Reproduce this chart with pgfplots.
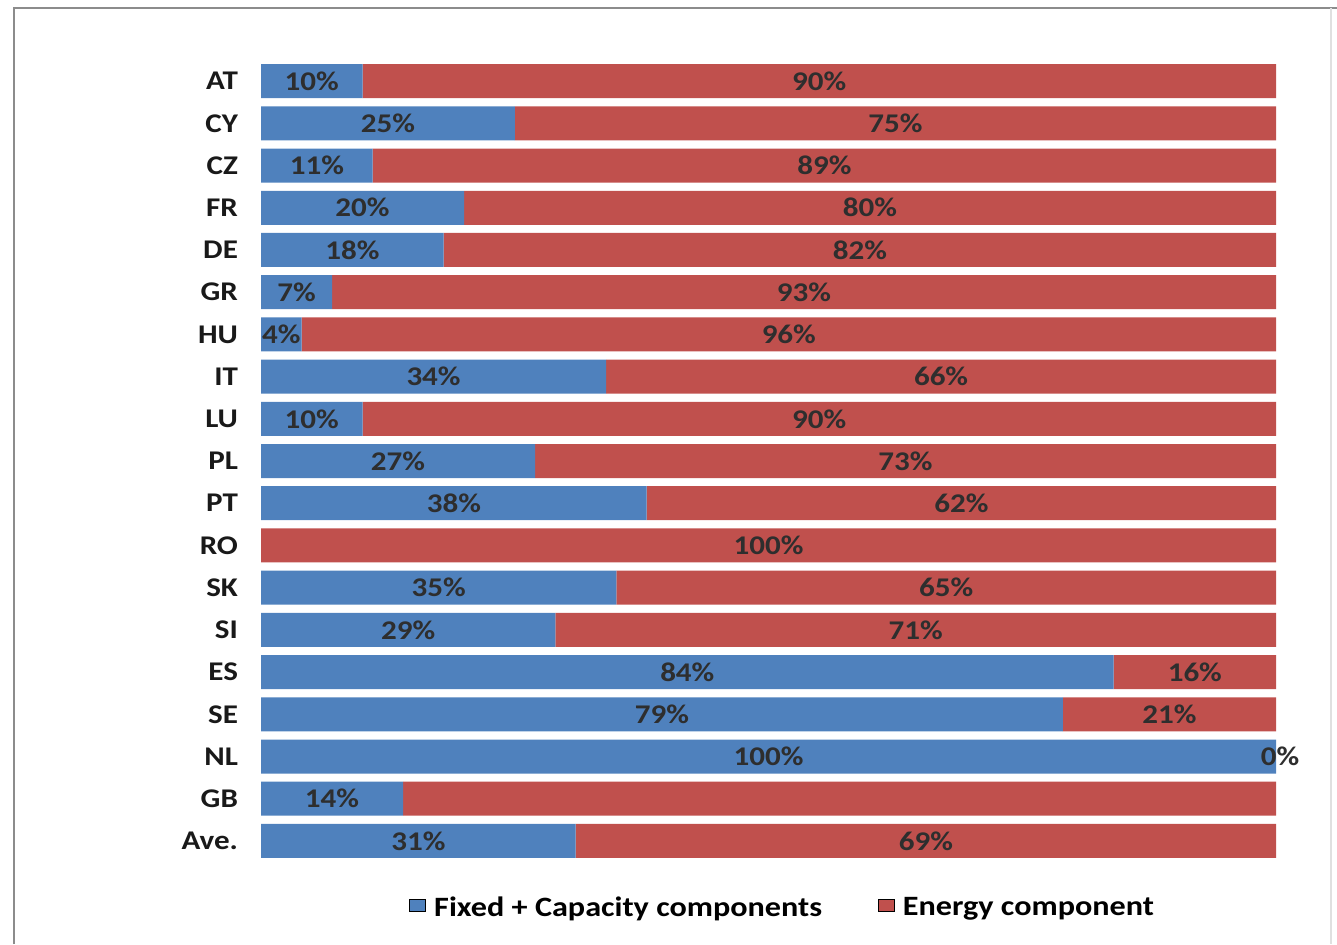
\documentclass[border=0pt]{standalone}
\usepackage{pgfplots}
\pgfplotsset{compat=1.18}
\usepackage{pgfplotstable}
\usepackage{fontspec}
\setmainfont[FakeStretch=1.15]{Carlito}

\definecolor{fixblue}{HTML}{4F81BD}
\definecolor{enred}{HTML}{C0504D}

% square swatches in the legend
\pgfplotsset{/pgfplots/legend image code/.code={%
  \fill[#1,draw=none] (0pt,-3.3pt) rectangle (6.6pt,3.3pt);}}

% shares of network tariff: fixed + capacity vs. energy component (%)
\pgfplotstableread{
idx fixed energy flab elab
0   10  90  10\%  90\%
1   25  75  25\%  75\%
2   11  89  11\%  89\%
3   20  80  20\%  80\%
4   18  82  18\%  82\%
5   7   93  7\%   93\%
6   4   96  4\%   96\%
7   34  66  34\%  66\%
8   10  90  10\%  90\%
9   27  73  27\%  73\%
10  38  62  38\%  62\%
11  0   100 {}    100\%
12  35  65  35\%  65\%
13  29  71  29\%  71\%
14  84  16  84\%  16\%
15  79  21  79\%  21\%
16  100 0   100\% 0\%
17  14  86  14\%  {}
18  31  69  31\%  69\%
}\shares

\begin{document}
\begin{tikzpicture}
\path[use as bounding box] (0,0) rectangle (668.5pt,-472pt);
\draw[black!45, line width=1.4pt] (7pt,-472pt) -- (7pt,-4pt) -- (668.5pt,-4pt);
\draw[black!12, line width=0.8pt] (665.5pt,-4pt) -- (665.5pt,-472pt);
\begin{axis}[
  at={(130.5pt,-30pt)}, anchor=north west,
  scale only axis, width=507.5pt, height=401pt,
  xbar stacked, bar width=17pt,
  xmin=0, xmax=100, ymin=-0.5, ymax=18.5, y dir=reverse,
  axis line style={draw=none}, xtick=\empty,
  ytick={0,...,18},
  yticklabels={AT,CY,CZ,FR,DE,GR,HU,IT,LU,PL,PT,RO,SK,SI,ES,SE,NL,GB,Ave.},
  major tick length=0pt,
  yticklabel style={font=\bfseries\fontsize{13.5}{16}\selectfont, text=black!90, xshift=-8pt},
  clip=false,
  point meta=explicit symbolic,
  nodes near coords,
  every node near coord/.append style={anchor=center, font=\bfseries\fontsize{13.5}{16}\selectfont, text=black!82},
  legend style={draw=none, fill=none, legend columns=2, at={(0.515,-0.057)}, anchor=center,
    font=\bfseries\fontsize{14}{17}\selectfont,
    /tikz/every even column/.append style={column sep=26pt},
    /tikz/every odd column/.append style={column sep=2pt}},
  legend cell align=left,
]
\addplot[fill=fixblue, draw=none]
  table[x=fixed, y=idx, meta=flab] {\shares};
\addlegendentry{Fixed + Capacity components}
\addplot[fill=enred, draw=none]
  table[x=energy, y=idx, meta=elab] {\shares};
\addlegendentry{Energy component}
\coordinate (nlend) at (axis cs:100,16);
\end{axis}
% the empty energy segment of NL keeps its label on top, at the bar end
\node[font=\bfseries\fontsize{13.5}{16}\selectfont, text=black!82, anchor=center, xshift=2pt]
  at (nlend) {0\%};
\end{tikzpicture}
\end{document}
